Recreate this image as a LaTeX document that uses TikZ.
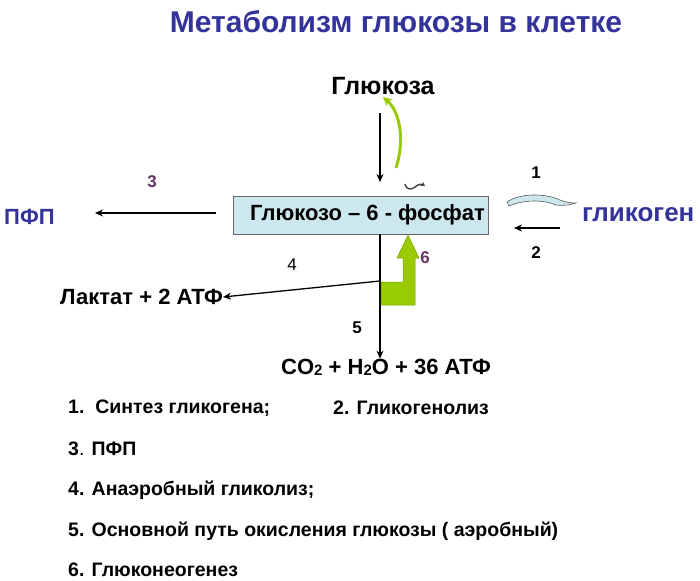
\documentclass[tikz,border=0pt]{standalone}
\usepackage{fontspec}
\setmainfont{Liberation Sans}
\usetikzlibrary{arrows.meta}

\definecolor{titleblue}{HTML}{333399}
\definecolor{boxblue}{HTML}{CCE8EE}
\definecolor{leafgreen}{HTML}{99CC00}
\definecolor{numpurple}{HTML}{663366}

\newcommand{\lowidx}[1]{{\fontsize{15}{15}\selectfont\raisebox{-1pt}{#1}}}

\tikzset{
  lbl/.style={font=\bfseries\fontsize{22}{24}\selectfont, inner sep=0pt},
  numlbl/.style={font=\bfseries\fontsize{17}{19}\selectfont, inner sep=0pt},
  listitem/.style={font=\bfseries\fontsize{19.5}{21}\selectfont, anchor=west, inner sep=0pt},
  flow/.style={-{Stealth[length=8pt,width=7pt]}, line width=1.3pt},
}

\begin{document}
\begin{tikzpicture}[x=1pt,y=-1pt]
  \useasboundingbox (0,0) rectangle (700,580);

  % Title
  \node (title) [font=\bfseries\fontsize{30}{32}\selectfont, text=titleblue] at (396,22)
    {Метаболизм глюкозы в клетке};

  % Main substances
  \node (glc) [lbl, font=\bfseries\fontsize{25}{27}\selectfont] at (383,86) {Глюкоза};
  \node (g6p) [draw=gray!80!black, fill=boxblue, minimum width=255pt, minimum height=38pt,
    inner sep=0pt, font=\bfseries\fontsize{22}{24}\selectfont] at (360.5,215) {\hspace*{14pt}Глюкозо – 6 - фосфат};
  \node (pfp) [lbl, text=titleblue, anchor=west] at (4,217) {ПФП};
  \node (glyc) [lbl, text=titleblue, font=\bfseries\fontsize{26}{28}\selectfont, anchor=west] at (582,215) {гликоген};
  \node (lact) [lbl, anchor=east] at (223,297) {Лактат + 2 АТФ};
  \node (co2) [lbl] at (386,367) {CO\lowidx{2} + H\lowidx{2}O + 36 АТФ};

  % Helper points
  \coordinate (top) at (380,113);
  \coordinate (fork) at (380,281);
  \coordinate (pfpend) at (95,213);
  \coordinate (pfpstart) at (216,213);

  % Arrows
  \draw[flow] (top) -- (380,182);
  \draw[flow] (pfpstart) -- (pfpend);
  \draw[flow] (560,228) coordinate (gstart) -- (514,228) coordinate (gend);
  \draw[line width=1.3pt] (g6p.south -| fork) -- (fork);
  \draw[flow] (fork) -- (lact.east);
  \draw[flow] (fork) -- (co2.north -| fork);

  % Green curved arrow back to glucose
  \draw[leafgreen, line width=3pt, -{Stealth[length=9pt,width=9pt]}]
    (396,168) .. controls (405,140) and (400,112) .. (383,97);

  % Small curly arrow
  \draw[gray!50!black, line width=1.4pt, -{Stealth[length=4pt,width=5pt]}]
    (405,184) .. controls (406,190) and (412,190) .. (415,187) .. controls (418,184) and (422,184) .. (425,186);

  % Swoosh arrow for glycogen synthesis
  \draw[gray!70!black, fill=boxblue, line width=0.6pt]
    (507,202) .. controls (520,193) and (545,193) .. (560,200)
    .. controls (565,202) and (570,203) .. (576,203)
    .. controls (570,205) and (563,206) .. (556,205)
    .. controls (545,200) and (525,199) .. (509,206) -- cycle;

  % Green L-shaped arrow (gluconeogenesis)
  \draw[leafgreen!80!black, fill=leafgreen, line width=0.5pt]
    (381,282) -- (403,282) -- (403,258) -- (397,258) -- (408,235) -- (419,258)
    -- (415,258) -- (415,305) -- (381,305) -- cycle;

  % Numbers
  \node (n1) [numlbl] at (536,173) {1};
  \node (n2) [numlbl] at (536,253) {2};
  \node (n3) [numlbl, text=numpurple] at (152,182) {3};
  \node (n4) [inner sep=0pt, font=\fontsize{17}{19}\selectfont] at (292,265) {4};
  \node (n5) [numlbl] at (357,328) {5};
  \node (n6) [numlbl, text=numpurple] at (425,258) {6};

  % Legend
  \node (l1) [listitem] at (68,408) {1.\ \ Синтез гликогена;};
  \node (l2) [listitem] at (333,408) {2. Гликогенолиз};
  \node (l3) [listitem] at (68,449) {3{\mdseries.} ПФП};
  \node (l4) [listitem] at (68,490) {4. Анаэробный гликолиз;};
  \node (l5) [listitem] at (68,531) {5. Основной путь окисления глюкозы ( аэробный)};
  \node (l6) [listitem] at (68,570) {6. Глюконеогенез};
\end{tikzpicture}
\end{document}
